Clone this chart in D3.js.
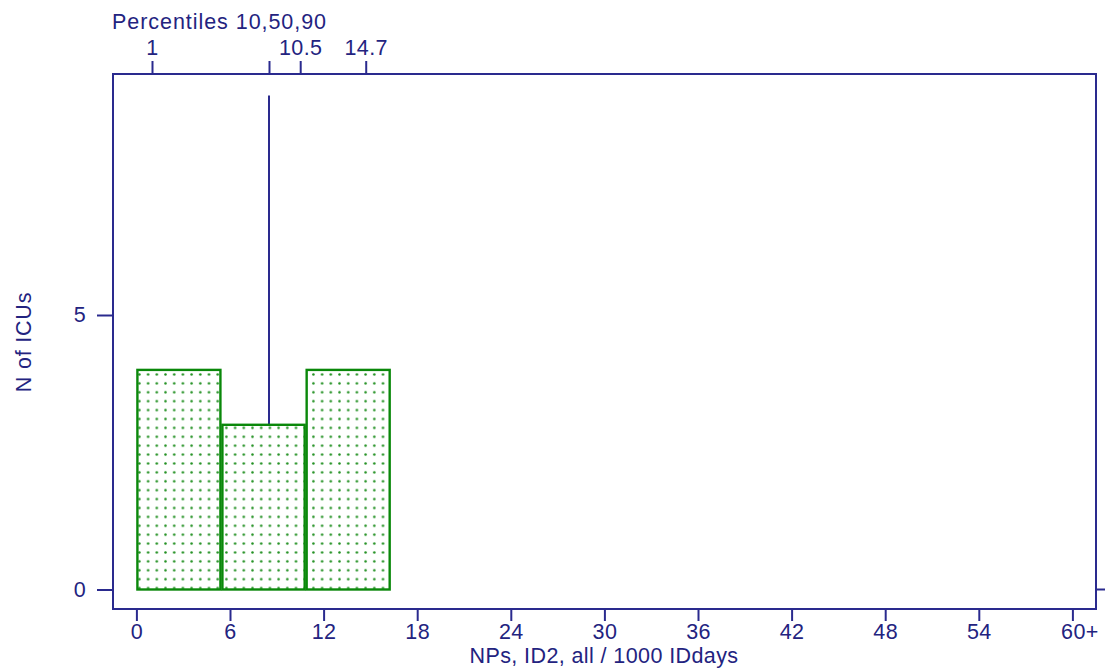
<!DOCTYPE html>
<html>
<head>
<meta charset="utf-8">
<script src="https://cdn.jsdelivr.net/npm/d3@7"></script>
<style>
  html, body { margin: 0; padding: 0; background: #ffffff; }
  svg { display: block; font-family: "Liberation Sans", Arial, sans-serif; }
  svg text { letter-spacing: 0.4px; }
</style>
</head>
<body>
<svg id="chart" width="1105" height="671"></svg>
<script>
// Histogram bins (lower / upper edge) and counts of ICUs per bin
const binStarts = [0, 5.45, 10.85];
const binEnds = [5.45, 10.85, 16.3];
const binCounts = [4, 3, 4];

// Percentile markers along the top axis (10th, 50th, 90th)
const percentileValues = [1, 8.5, 10.5, 14.7];
const percentileLabels = ["1", "", "10.5", "14.7"];
const medianValue = 8.5;
const medianLineTop = 9;

// Axis ticks
const xTickValues = [0, 6, 12, 18, 24, 30, 36, 42, 48, 54, 60];
const xTickLabels = ["0", "6", "12", "18", "24", "30", "36", "42", "48", "54", "60+"];
const yTickValues = [0, 5];

const navy = "#23237f";
const axisColor = "#2a2a8e";
const green = "#0a880a";
const fontSize = "21.5px";

const svg = d3.select("#chart");

const frame = { left: 113, right: 1096, top: 74, bottom: 609 };

const x = d3.scaleLinear().domain([0, 60]).range([136.4, 1072.4]);
const y = d3.scaleLinear().domain([0, 5]).range([589.5, 315]);

// Dotted fill used by the bars
const defs = svg.append("defs");
const pat = defs.append("pattern")
  .attr("id", "dots")
  .attr("patternUnits", "userSpaceOnUse")
  .attr("x", 137).attr("y", 372)
  .attr("width", 8.7).attr("height", 8.9);
pat.append("rect").attr("width", 8.7).attr("height", 8.9).attr("fill", "#ffffff");
pat.append("circle").attr("cx", 2.4).attr("cy", 2.4).attr("r", 1.25).attr("fill", "#1f8f1f");

// Plot frame
svg.append("rect")
  .attr("x", frame.left).attr("y", frame.top)
  .attr("width", frame.right - frame.left)
  .attr("height", frame.bottom - frame.top)
  .attr("fill", "none")
  .attr("stroke", axisColor)
  .attr("stroke-width", 2);

// Median line
svg.append("line")
  .attr("x1", x(medianValue)).attr("x2", x(medianValue))
  .attr("y1", y(medianLineTop)).attr("y2", y(0))
  .attr("stroke", axisColor)
  .attr("stroke-width", 2);

// Bars
const bins = binCounts.map((c, i) => ({ x0: binStarts[i], x1: binEnds[i], n: c }));
svg.append("g").selectAll("rect")
  .data(bins)
  .join("rect")
  .attr("x", d => x(d.x0) + 1)
  .attr("width", d => x(d.x1) - x(d.x0) - 2)
  .attr("y", d => y(d.n))
  .attr("height", d => y(0) - y(d.n))
  .attr("fill", "url(#dots)")
  .attr("stroke", green)
  .attr("stroke-width", 2.4);

// Bottom axis
const xAxis = d3.axisBottom(x)
  .tickValues(xTickValues)
  .tickFormat((d, i) => xTickLabels[i])
  .tickSize(12)
  .tickPadding(3);
const gx = svg.append("g")
  .attr("transform", `translate(0,${frame.bottom})`)
  .call(xAxis);
gx.select(".domain").remove();
gx.selectAll(".tick line").attr("stroke", axisColor).attr("stroke-width", 2);
gx.selectAll(".tick text")
  .attr("fill", navy)
  .style("font-size", fontSize)
  .attr("dx", (d, i) => xTickLabels[i].endsWith("+") ? "7" : "0");

// Left axis
const yAxis = d3.axisLeft(y)
  .tickValues(yTickValues)
  .tickFormat(d3.format("d"))
  .tickSize(16)
  .tickPadding(11);
const gy = svg.append("g")
  .attr("transform", `translate(${frame.left},0)`)
  .call(yAxis);
gy.select(".domain").remove();
gy.selectAll(".tick line").attr("stroke", axisColor).attr("stroke-width", 2);
gy.selectAll(".tick text").attr("fill", navy).style("font-size", fontSize);

// Right-side zero tick
svg.append("line")
  .attr("x1", frame.right).attr("x2", 1105)
  .attr("y1", y(0)).attr("y2", y(0))
  .attr("stroke", axisColor).attr("stroke-width", 2);

// Top percentile axis
const topAxis = d3.axisTop(x)
  .tickValues(percentileValues)
  .tickFormat((d, i) => percentileLabels[i])
  .tickSize(13)
  .tickPadding(6);
const gt = svg.append("g")
  .attr("transform", `translate(0,${frame.top})`)
  .call(topAxis);
gt.select(".domain").remove();
gt.selectAll(".tick line").attr("stroke", axisColor).attr("stroke-width", 2);
gt.selectAll(".tick text").attr("fill", navy).style("font-size", fontSize);

// Titles
svg.append("text")
  .attr("x", 112).attr("y", 29)
  .attr("fill", navy)
  .style("font-size", fontSize)
  .style("letter-spacing", "0.95px")
  .text("Percentiles 10,50,90");

svg.append("text")
  .attr("x", 604).attr("y", 663)
  .attr("text-anchor", "middle")
  .attr("fill", navy)
  .style("font-size", fontSize)
  .text("NPs, ID2, all / 1000 IDdays");

svg.append("text")
  .attr("transform", "translate(31,342) rotate(-90)")
  .attr("text-anchor", "middle")
  .attr("fill", navy)
  .style("font-size", fontSize)
  .style("letter-spacing", "0.8px")
  .text("N of ICUs");
</script>
</body>
</html>
